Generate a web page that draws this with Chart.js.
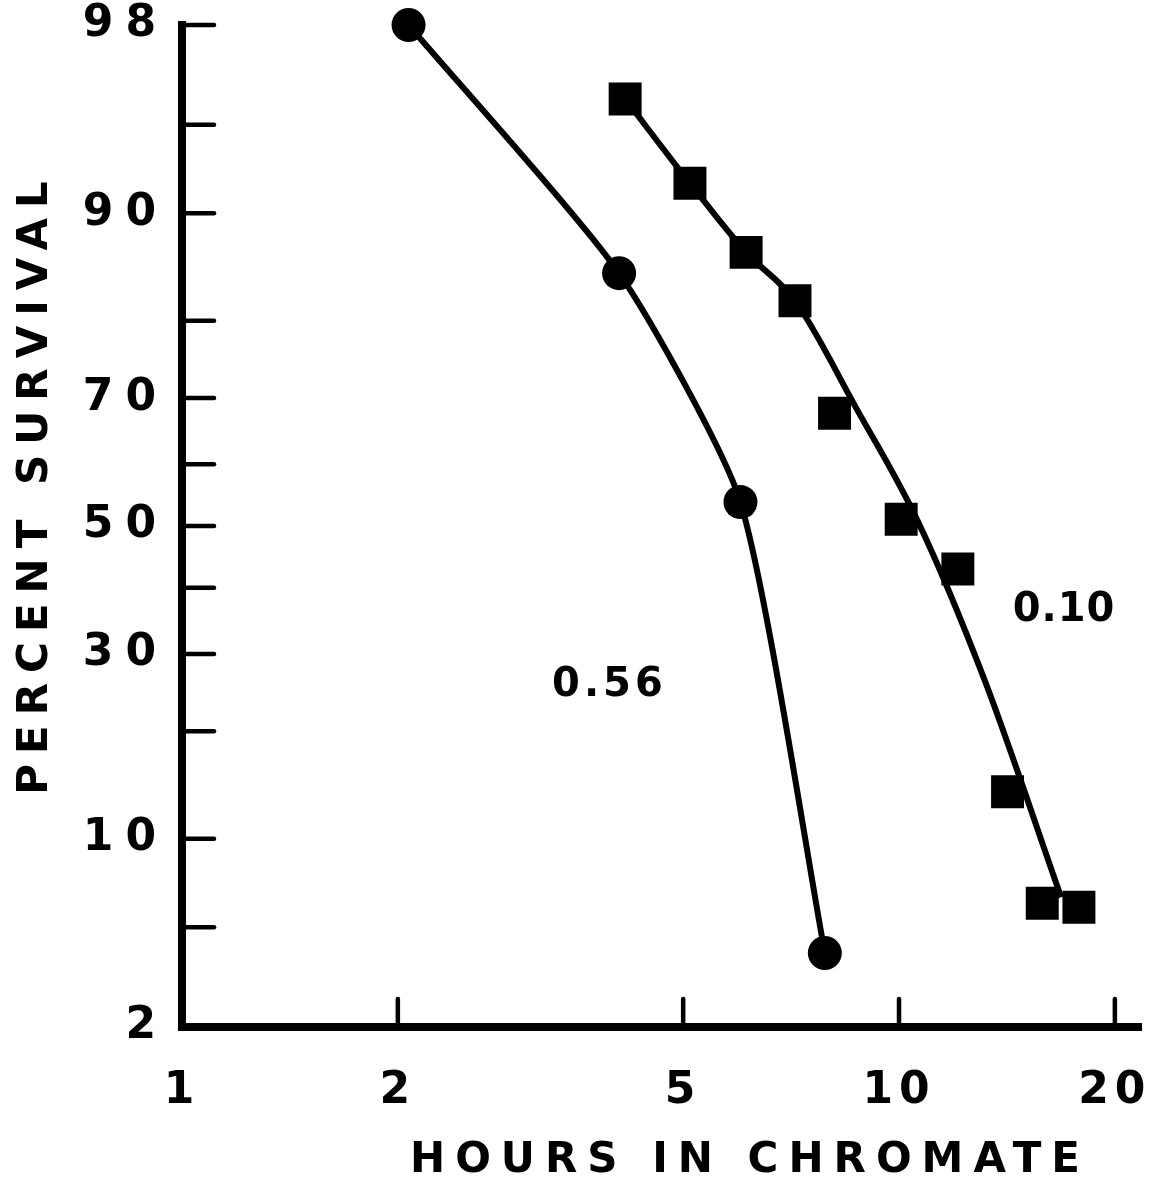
<!DOCTYPE html>
<html>
<head>
<meta charset="utf-8">
<script src="https://cdn.jsdelivr.net/npm/chart.js@4.4.1/dist/chart.umd.min.js"></script>
<style>
  html, body { margin: 0; padding: 0; background: #fff; }
</style>
</head>
<body>
<canvas id="chart" width="1165" height="1179"></canvas>
<script>
// ── values ──
const hours056    = [2.07, 4.07, 6.01, 7.88];
const survival056 = [98.0, 85.0, 53.9, 4.0];

const hours010    = [4.15, 5.11, 6.12, 7.16, 8.13, 10.07, 12.08, 14.17, 15.84, 17.82];
const survival010 = [96.0, 92.0, 86.9, 82.2, 67.8, 51.1, 43.0, 13.8, 6.1, 5.9];

// hand-drawn curve for 0.10 (does not pass through every square)
const curveHours010    = [4.15, 5.11, 6.12, 7.16, 8.70, 10.60, 13.16, 16.83];
const curveSurvival010 = [96.0, 92.0, 86.9, 82.2, 68.7, 51.0, 26.4, 6.4];

const xTicks    = [1, 2, 5, 10, 20];
const yTicks    = [98, 95, 90, 80, 70, 60, 50, 40, 30, 20, 10, 5, 2];
const yLabelled = [98, 90, 70, 50, 30, 10, 2];

const curveLabels = ['0.56', '0.10'];
const labelHours  = [3.92, 16.88];
const labelSurv   = [25.6, 36.4];

const FONT = 'DejaVu Sans';

// ── probability (probit) axis ──
function probit(p) {
  const a = [-3.969683028665376e+01, 2.209460984245205e+02, -2.759285104469687e+02,
             1.383577518672690e+02, -3.066479806614716e+01, 2.506628277459239e+00];
  const b = [-5.447609879822406e+01, 1.615858368580409e+02, -1.556989798598866e+02,
             6.680131188771972e+01, -1.328068155288572e+01];
  const c = [-7.784894002430293e-03, -3.223964580411365e-01, -2.400758277161838e+00,
             -2.549732539343734e+00, 4.374664141464968e+00, 2.938163982698783e+00];
  const d = [7.784695709041462e-03, 3.224671290700398e-01, 2.445134137142996e+00,
             3.754408661907416e+00];
  const lo = 0.02425, hi = 1 - lo;
  let q, r;
  if (p < lo) {
    q = Math.sqrt(-2 * Math.log(p));
    return (((((c[0]*q+c[1])*q+c[2])*q+c[3])*q+c[4])*q+c[5]) / ((((d[0]*q+d[1])*q+d[2])*q+d[3])*q+1);
  }
  if (p > hi) {
    q = Math.sqrt(-2 * Math.log(1 - p));
    return -(((((c[0]*q+c[1])*q+c[2])*q+c[3])*q+c[4])*q+c[5]) / ((((d[0]*q+d[1])*q+d[2])*q+d[3])*q+1);
  }
  q = p - 0.5; r = q * q;
  return (((((a[0]*r+a[1])*r+a[2])*r+a[3])*r+a[4])*r+a[5])*q /
         (((((b[0]*r+b[1])*r+b[2])*r+b[3])*r+b[4])*r+1);
}

function normCdf(z) {
  const t = 1 / (1 + 0.3275911 * Math.abs(z) / Math.SQRT2);
  const e = 1 - (((((1.061405429*t - 1.453152027)*t) + 1.421413741)*t - 0.284496736)*t + 0.254829592) * t * Math.exp(-z*z/2);
  return z >= 0 ? (1 + e) / 2 : (1 - e) / 2;
}

class ProbitScale extends Chart.Scale {
  determineDataLimits() {
    this.min = this.options.min;
    this.max = this.options.max;
  }
  buildTicks() {
    return yTicks.map(v => ({ value: v }));
  }
  getLabelForValue(v) { return v + '%'; }
  getPixelForValue(v) {
    const z0 = probit(this.min / 100), z1 = probit(this.max / 100);
    return this.getPixelForDecimal((probit(v / 100) - z0) / (z1 - z0));
  }
  getValueForPixel(px) {
    const z0 = probit(this.min / 100), z1 = probit(this.max / 100);
    return 100 * normCdf(z0 + this.getDecimalForPixel(px) * (z1 - z0));
  }
  drawLabels(area) {
    const ctx = this.ctx;
    ctx.save();
    ctx.letterSpacing = '12px';
    super.drawLabels(area);
    ctx.restore();
  }
}
ProbitScale.id = 'probit';
ProbitScale.defaults = {};
Chart.register(ProbitScale);

// ── inward tick marks, curve labels, axis titles ──
const decorPlugin = {
  id: 'decor',
  beforeDraw(chart) {
    chart.ctx.letterSpacing = '6px';
  },
  afterDraw(chart) {
    const { ctx, chartArea: a, scales: { x, y } } = chart;
    ctx.save();
    ctx.letterSpacing = '0px';
    ctx.strokeStyle = '#000';
    ctx.lineWidth = 4.5;
    ctx.lineCap = 'round';
    yTicks.filter(v => v !== 2).forEach(v => {
      const py = y.getPixelForValue(v);
      ctx.beginPath(); ctx.moveTo(a.left, py); ctx.lineTo(a.left + 32, py); ctx.stroke();
    });
    xTicks.filter(v => v !== 1).forEach(v => {
      const px = x.getPixelForValue(v);
      ctx.beginPath(); ctx.moveTo(px, a.bottom); ctx.lineTo(px, a.bottom - 28); ctx.stroke();
    });
    // close the corner where the two borders meet
    ctx.fillStyle = '#000';
    ctx.fillRect(a.left - 4, a.bottom - 4, 8, 8);

    ctx.font = `bold 40px "${FONT}"`;
    ctx.textAlign = 'center';
    ctx.textBaseline = 'middle';
    curveLabels.forEach((t, i) => {
      ctx.letterSpacing = i === 0 ? '4px' : '1px';
      ctx.fillText(t, x.getPixelForValue(labelHours[i]) + 2, y.getPixelForValue(labelSurv[i]));
    });

    ctx.font = `bold 42px "${FONT}"`;
    ctx.letterSpacing = '10px';
    ctx.textBaseline = 'alphabetic';
    ctx.fillText('HOURS IN CHROMATE', 750, 1172);
    ctx.translate(47, 488);
    ctx.rotate(-Math.PI / 2);
    ctx.fillText('PERCENT SURVIVAL', 5, 0);
    ctx.restore();
  }
};

const tickFont = { family: FONT, size: 44, weight: 'bold' };

new Chart(document.getElementById('chart'), {
  type: 'scatter',
  data: {
    datasets: [
      {
        label: '0.56',
        data: hours056.map((h, i) => ({ x: h, y: survival056[i] })),
        showLine: true,
        tension: 0.2,
        borderColor: '#000',
        borderWidth: 6,
        backgroundColor: '#000',
        pointStyle: 'circle',
        pointRadius: 17,
        pointBorderWidth: 0,
        clip: false,
      },
      {
        label: '0.10 curve',
        data: curveHours010.map((h, i) => ({ x: h, y: curveSurvival010[i] })),
        showLine: true,
        cubicInterpolationMode: 'monotone',
        borderColor: '#000',
        borderWidth: 6,
        pointRadius: 0,
        clip: false,
      },
      {
        label: '0.10',
        data: hours010.map((h, i) => ({ x: h, y: survival010[i] })),
        showLine: false,
        backgroundColor: '#000',
        borderColor: '#000',
        pointStyle: 'rect',
        pointRadius: 23.3,
        pointBorderWidth: 0,
        clip: false,
      },
    ],
  },
  plugins: [decorPlugin],
  options: {
    responsive: false,
    devicePixelRatio: 1,
    animation: false,
    events: [],
    layout: { padding: { top: 25, right: 17, left: 0, bottom: 0 } },
    plugins: { legend: { display: false }, tooltip: { enabled: false } },
    scales: {
      x: {
        type: 'logarithmic',
        position: 'bottom',
        min: 1,
        max: 21.8,
        afterBuildTicks: s => { s.ticks = xTicks.map(v => ({ value: v })); },
        afterFit: s => { s.height = 152; s.paddingLeft = 0; s.paddingRight = 0; },
        grid: { display: false },
        border: { display: true, color: '#000', width: 8 },
        ticks: {
          autoSkip: false,
          maxRotation: 0,
          padding: 30,
          color: '#000',
          font: tickFont,
          callback: v => String(v),
        },
      },
      y: {
        type: 'probit',
        position: 'left',
        min: 2,
        max: 98,
        afterFit: s => { s.width = 182; s.paddingTop = 0; s.paddingBottom = 0; },
        grid: { display: false },
        border: { display: true, color: '#000', width: 8 },
        ticks: {
          autoSkip: false,
          padding: 6,
          color: '#000',
          font: tickFont,
          callback: v => yLabelled.includes(v) ? String(v) : '',
        },
      },
    },
  },
});
</script>
</body>
</html>
